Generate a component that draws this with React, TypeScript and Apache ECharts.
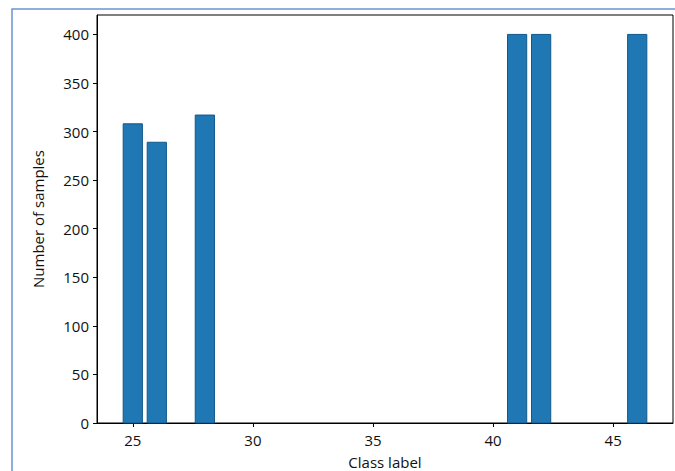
import React, { useEffect, useRef } from "react";
import * as echarts from "echarts";

const classLabels = [25, 26, 28, 41, 42, 46];
const sampleCounts = [308, 289, 317, 400, 400, 400];
const xTicks = [25, 30, 35, 40, 45];
const yTicks = [0, 50, 100, 150, 200, 250, 300, 350, 400];
const barWidthUnits = 0.8;

export default function App() {
  const ref = useRef<HTMLDivElement>(null);
  useEffect(() => {
    document.body.style.margin = "0";
    const chart = echarts.init(ref.current!, null, { renderer: "svg" });
    const font = "Open Sans";
    chart.setOption({
      animation: false,
      backgroundColor: "#ffffff",
      textStyle: { fontFamily: font },
      graphic: [
        {
          type: "rect",
          shape: { x: 12, y: 9, width: 700, height: 500 },
          style: { fill: "none", stroke: "#6a95cf", lineWidth: 1.5 },
          silent: true,
        },
      ],
      grid: {
        left: 97,
        top: 15,
        right: 2,
        bottom: 48,
        containLabel: false,
        outerBoundsMode: "none",
        show: true,
        borderColor: "#000",
        borderWidth: 1,
        backgroundColor: "#fff",
      },
      xAxis: {
        type: "value",
        min: 23.51,
        max: 47.49,
        name: "Class label",
        nameLocation: "middle",
        nameGap: 31,
        nameTextStyle: { color: "#111", fontSize: 15, fontFamily: font },
        axisLine: { show: true, lineStyle: { color: "#000", width: 1 } },
        axisTick: { show: true, inside: false, length: 4, lineStyle: { color: "#000" }, customValues: xTicks },
        axisLabel: { color: "#111", fontSize: 15, fontFamily: font, margin: 9, customValues: xTicks },
        splitLine: { show: false },
      },
      yAxis: {
        type: "value",
        min: 0,
        max: 420,
        name: "Number of samples",
        nameLocation: "middle",
        nameGap: 52,
        nameTextStyle: { color: "#111", fontSize: 15, fontFamily: font },
        axisLine: { show: true, lineStyle: { color: "#000", width: 1 } },
        axisTick: { show: true, inside: false, length: 4, lineStyle: { color: "#000" }, customValues: yTicks },
        axisLabel: { color: "#111", fontSize: 15, fontFamily: font, margin: 8, customValues: yTicks },
        splitLine: { show: false },
      },
      series: [
        {
          type: "custom",
          data: classLabels.map((c, i) => [c, sampleCounts[i]]),
          encode: { x: 0, y: 1 },
          renderItem: (params: any, api: any) => {
            const x = api.value(0);
            const y = api.value(1);
            const p0 = api.coord([x - barWidthUnits / 2, y]);
            const p1 = api.coord([x + barWidthUnits / 2, 0]);
            return {
              type: "rect",
              shape: { x: p0[0], y: p0[1], width: p1[0] - p0[0], height: p1[1] - p0[1] },
              style: { fill: "#1f77b4", stroke: "#12588a", lineWidth: 1 },
            };
          },
        },
      ],
    });
    return () => chart.dispose();
  }, []);
  return <div ref={ref} style={{ width: 675, height: 471 }} />;
}
